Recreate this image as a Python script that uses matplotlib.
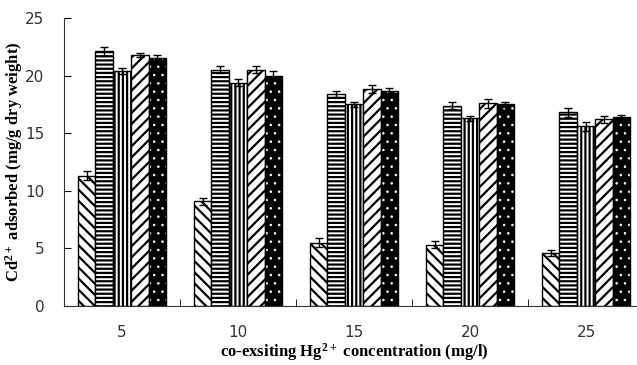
import numpy as np
import matplotlib.pyplot as plt

plt.rcParams['hatch.linewidth'] = 1.6
plt.rcParams['mathtext.default'] = 'regular'

groups = ['5', '10', '15', '20', '25']
s1 = [11.3, 9.1, 5.5, 5.3, 4.6]
s2 = [22.1, 20.5, 18.4, 17.4, 16.8]
s3 = [20.4, 19.4, 17.5, 16.3, 15.6]
s4 = [21.8, 20.5, 18.8, 17.6, 16.2]
s5 = [21.5, 20.0, 18.7, 17.5, 16.4]
e1 = [0.4, 0.3, 0.4, 0.3, 0.3]
e2 = [0.4, 0.3, 0.3, 0.3, 0.4]
e3 = [0.3, 0.3, 0.2, 0.2, 0.4]
e4 = [0.2, 0.3, 0.35, 0.4, 0.3]
e5 = [0.3, 0.4, 0.2, 0.25, 0.2]

fig = plt.figure(figsize=(6.37, 3.65), dpi=100)
ax = fig.add_axes([64/637, 59/365, 580/637, 288/365])

x = np.arange(len(groups))
w = 0.153
series = [(s1, e1, '\\\\\\'), (s2, e2, '----'), (s3, e3, '||||'), (s4, e4, '///'), (s5, e5, None)]
for i, (vals, errs, h) in enumerate(series):
    pos = x + (i - 2) * w
    if h is None:
        with plt.rc_context({'hatch.linewidth': 0.6}):
            ax.bar(pos, vals, w, color='black', edgecolor='white', hatch='..', linewidth=0)
        ax.bar(pos, vals, w, fill=False, edgecolor='black', linewidth=1)
    else:
        ax.bar(pos, vals, w, color='white', edgecolor='black', hatch=h, linewidth=1)
    ax.errorbar(pos, vals, yerr=errs, fmt='none', ecolor='black', elinewidth=1, capsize=3, capthick=1)

ax.set_xlim(-0.5, len(groups) - 0.5)
ax.set_ylim(0, 25)
ax.set_yticks([0, 5, 10, 15, 20, 25])
ax.set_xticks(x)
ax.set_xticklabels(groups)
ax.set_xticks(np.arange(len(groups) + 1) - 0.5, minor=True)
ax.tick_params(axis='x', which='major', length=0, pad=14)
ax.tick_params(axis='x', which='minor', direction='in', length=5)
ax.tick_params(axis='y', direction='in', length=5, pad=14)
for lab in ax.get_xticklabels() + ax.get_yticklabels():
    lab.set_fontsize(11)
    lab.set_color('#333333')
ax.spines['top'].set_visible(False)
ax.spines['right'].set_visible(False)
ax.spines['left'].set_color('#333333')
ax.spines['bottom'].set_color('#333333')

fig.text(354/637, 1 - 352/365, 'co-exsiting Hg$^{2+}$ concentration (mg/l)', family='Liberation Serif',
         fontweight='bold', fontsize=12, ha='center', va='center')
fig.text(14/637, 1 - 162/365, 'Cd$^{2+}$ adsorbed (mg/g dry weight)', family='Liberation Serif',
         fontweight='bold', fontsize=12, ha='center', va='center', rotation=90)

fig.savefig('out.png', dpi=100)
